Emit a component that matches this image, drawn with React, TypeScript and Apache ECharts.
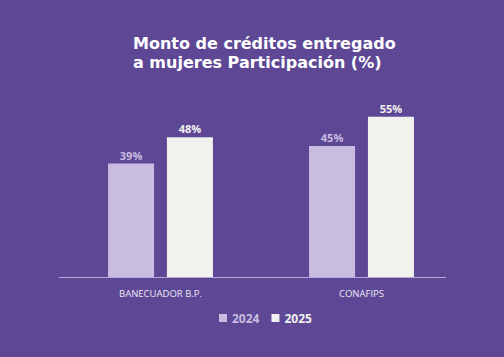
import React, { useEffect, useRef } from "react";
import * as echarts from "echarts";

const categories = ["BANECUADOR B.P.", "CONAFIPS"];
const seriesNames = ["2024", "2025"];
const values2024 = [39, 45];
const values2025 = [48, 55];
const titleLines = ["Monto de créditos entregado", "a mujeres Participación (%)"];

const BG = "#5e4896";
const C2024 = "#c8bde0";
const C2025 = "#f1f1ee";
const FONT = "'Open Sans', sans-serif";
const TITLE_FONT = "'DejaVu Sans', sans-serif";

export default function App() {
  const ref = useRef<HTMLDivElement>(null);
  useEffect(() => {
    if (!ref.current) return;
    const chart = echarts.init(ref.current, undefined, { renderer: "svg" });
    const titleStyle = {
      color: "#ffffff",
      fontSize: 16,
      fontWeight: 700,
      lineHeight: 17,
      fontFamily: TITLE_FONT,
    };
    chart.setOption({
      animation: false,
      backgroundColor: BG,
      textStyle: { fontFamily: FONT },
      title: [
        { text: titleLines[0], left: 133, top: 35, padding: 0, textStyle: titleStyle },
        { text: titleLines[1], left: 133, top: 54, padding: 0, textStyle: titleStyle },
      ],
      legend: {
        top: 307,
        left: 214,
        itemWidth: 8,
        itemHeight: 8,
        itemGap: 12,
        icon: "rect",
        textStyle: { fontSize: 12, fontWeight: 700, fontFamily: FONT },
        data: [
          { name: seriesNames[0], textStyle: { color: C2024 } },
          { name: seriesNames[1], textStyle: { color: C2025 } },
        ],
      },
      grid: { left: 60, right: 42, top: 102, bottom: 79, containLabel: false },
      xAxis: {
        type: "category",
        data: categories,
        axisLine: { show: false },
        axisTick: { show: false },
        axisLabel: { color: "#ece8f4", fontSize: 9.5, fontWeight: 500, margin: 10, fontFamily: FONT },
      },
      yAxis: {
        type: "value",
        min: 0,
        max: 60,
        show: false,
        splitLine: { show: false },
      },
      graphic: [
        {
          type: "line",
          shape: { x1: 59, y1: 277.5, x2: 446, y2: 277.5 },
          style: { stroke: "#b7a8d8", lineWidth: 1 },
          z: 10,
        },
      ],
      series: [
        {
          name: seriesNames[0],
          type: "bar",
          data: values2024,
          barWidth: 46,
          barGap: "28%",
          itemStyle: { color: C2024 },
          label: {
            show: true,
            position: "top",
            distance: 3,
            formatter: "{c}%",
            color: C2024,
            fontSize: 11,
            fontWeight: 700,
            fontFamily: FONT,
          },
        },
        {
          name: seriesNames[1],
          type: "bar",
          data: values2025,
          barWidth: 46,
          itemStyle: { color: C2025 },
          label: {
            show: true,
            position: "top",
            distance: 3,
            formatter: "{c}%",
            color: C2025,
            fontSize: 11,
            fontWeight: 700,
            fontFamily: FONT,
          },
        },
      ],
    });
    return () => chart.dispose();
  }, []);
  return (
    <div
      ref={ref}
      style={{ position: "fixed", left: 0, top: 0, width: 504, height: 357 }}
    />
  );
}
